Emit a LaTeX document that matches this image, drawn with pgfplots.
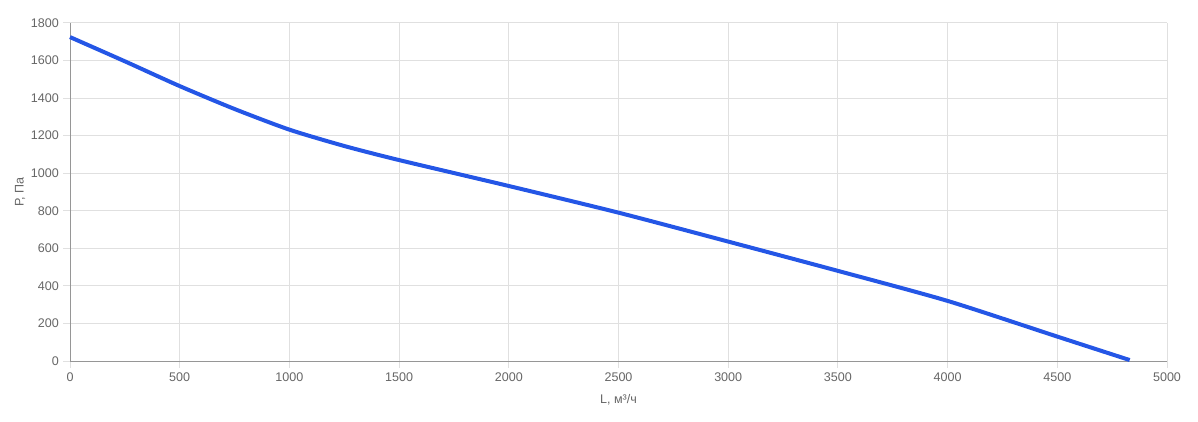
\documentclass[border=0pt]{standalone}
\usepackage{pgfplots}
\pgfplotsset{compat=1.18}
\usepackage{fontspec}
\setmainfont{Liberation Sans}
\definecolor{curve}{RGB}{36,86,230}
\definecolor{gridc}{RGB}{224,224,224}
\definecolor{axisc}{RGB}{150,150,150}
\definecolor{txt}{RGB}{102,102,102}
\begin{document}
\begin{tikzpicture}
\begin{axis}[
  scale only axis,
  width=822.75pt, height=253.5pt,
  xmin=0, xmax=5000, ymin=0, ymax=1800,
  xtick={0,500,...,5000}, ytick={0,200,...,1800},
  axis x line*=bottom, axis y line*=left,
  axis line style={draw=axisc, line width=0.75pt},
  grid=major,
  major grid style={draw=gridc, line width=0.75pt},
  tick align=outside, tick pos=left,
  major tick length=5.25pt,
  major tick style={draw=gridc, line width=0.75pt},
  /pgf/number format/assume math mode=true,
  /pgf/number format/1000 sep={},
  tick label style={font=\fontsize{9.4}{11}\selectfont, text=txt},
  yticklabel style={anchor=east, inner sep=0pt, xshift=-3pt},
  xticklabel style={anchor=north, inner sep=0pt, yshift=-3pt},
  label style={font=\fontsize{9.4}{11}\selectfont, text=txt},
  xlabel={L, м³/ч},
  ylabel={P, Па},
  xlabel style={at={(axis description cs:0.5,0)}, anchor=center, yshift=-29.25pt},
  ylabel style={at={(axis description cs:0,0.5)}, anchor=center, yshift=37.5pt},
  clip=false,
]
\addplot[curve, line width=3pt, smooth, tension=0.4] coordinates {
 (0,1725) (250,1596) (500,1464) (750,1342) (1000,1232) (1250,1145)
 (1500,1070) (2000,932) (2500,790) (3000,636) (3500,480) (4000,320)
 (4500,130) (4830,5)
};
\end{axis}
\useasboundingbox (-52.5pt,-45pt) rectangle (846pt,270.75pt);
\end{tikzpicture}
\end{document}
